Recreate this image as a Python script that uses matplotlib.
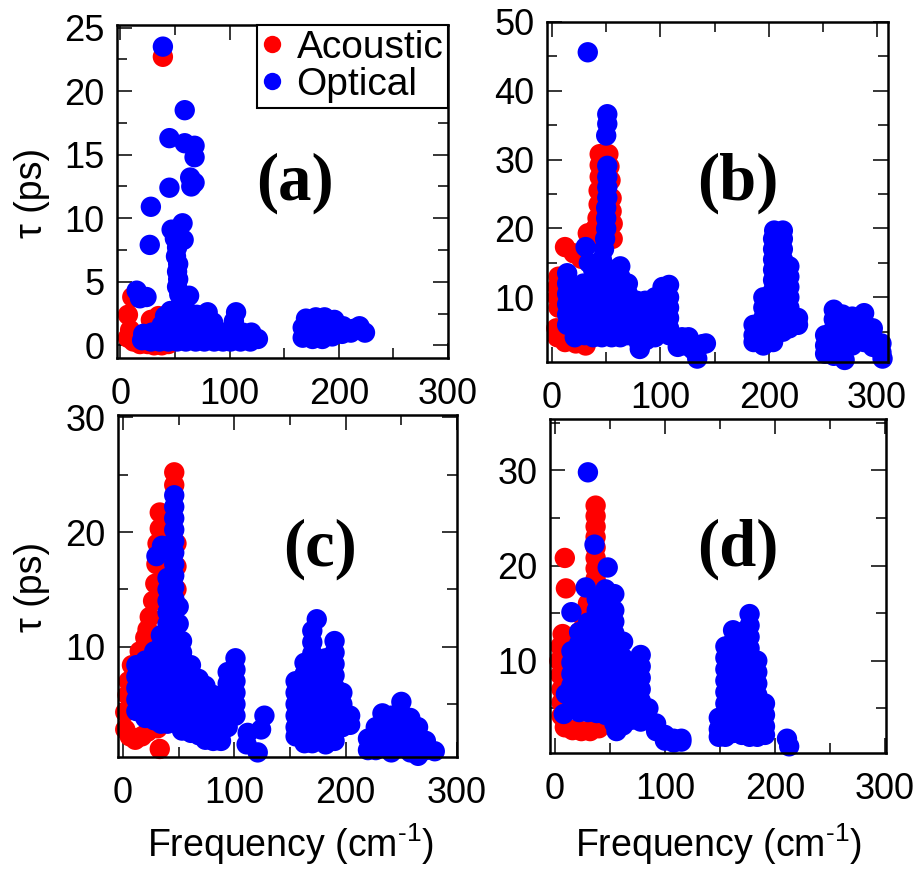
import matplotlib
matplotlib.use("Agg")
import matplotlib.pyplot as plt
from matplotlib.lines import Line2D
from matplotlib.ticker import MultipleLocator

plt.rcParams["font.family"] = ["Liberation Sans", "DejaVu Sans"]
plt.rcParams["mathtext.fontset"] = "custom"
plt.rcParams["mathtext.rm"] = "Liberation Sans"
plt.rcParams["mathtext.it"] = "Liberation Sans:italic"

RED = "#ff0000"
BLUE = "#0000ff"

# (frequency cm^-1, tau ps), panel by panel
a_acoustic = [
    (39, 22.7),
    (7, 2.4), (11, 3.8), (28, 2.0), (35, 2.3), (36, 1.5),
    (7, 0.6), (9, 1.2), (12, 0.3), (18, 0.1), (25, 0.1), (31, 0.0), (38, 0.0), (44, 0.1),
]
a_optical = [
    (39, 23.5), (59, 18.5), (45, 16.3), (59, 15.9), (68, 15.7), (68, 14.8),
    (64, 13.2), (68, 12.8), (65, 12.5), (45, 12.4), (28, 10.9), (27, 7.9),
    (57, 9.6), (47, 9.1), (52, 8.9), (58, 8.3),
    (50, 8.4), (52, 7.7), (51, 7.0), (53, 6.4), (52, 5.8), (53, 5.2), (52, 4.6), (54, 4.0),
    (63, 3.9), (15, 4.3), (18, 3.7), (24, 3.8),
    (20, 0.4), (21, 0.9), (28, 0.3), (29, 1.0), (36, 0.3), (37, 1.0), (38, 1.6),
    (41, 2.3), (44, 0.3), (44, 1.1), (45, 1.9), (46, 2.7), (52, 0.3), (52, 1.1),
    (53, 1.9), (54, 2.7), (56, 3.4), (60, 0.3), (61, 1.1), (61, 1.9), (62, 2.6),
    (69, 0.3), (69, 1.1), (70, 1.9), (70, 2.4), (77, 0.3), (77, 1.1), (78, 1.9),
    (80, 2.6), (86, 0.3), (86, 1.1), (85, 1.8), (94, 0.3), (94, 1.0), (101, 0.3),
    (102, 1.1), (104, 1.9), (106, 2.6), (110, 0.3), (112, 1.0), (119, 0.3),
    (120, 1.0), (126, 0.5),
    (167, 0.6), (167, 1.4), (170, 2.1), (176, 0.5), (177, 1.3), (179, 2.2),
    (185, 0.5), (186, 1.3), (187, 2.2), (194, 0.7), (195, 1.4), (196, 2.0),
    (203, 0.9), (204, 1.5), (211, 1.0), (214, 1.3), (219, 1.5), (224, 1.0),
]

b_acoustic = [
    (12, 17.3), (20, 16.4), (27, 15.6), (33, 19.3),
    (44, 30.8), (52, 30.8), (44, 29.2), (53, 29.0), (44, 27.5), (54, 27.0),
    (43, 25.5), (55, 24.4), (43, 23.5), (55, 22.5), (42, 21.5), (56, 20.7),
    (40, 20.0), (56, 18.5), (38, 18.5),
    (6, 13.0), (5, 11.5), (5, 10.0), (6, 8.5), (4, 5.5), (5, 4.2),
    (12, 3.5), (22, 3.3), (31, 3.0),
]
b_optical = [
    (33, 45.6),
    (51, 36.6), (51, 35.2), (50, 33.5), (51, 29.1), (51, 27.5), (51, 26.0),
    (51, 24.5), (50, 23.0), (50, 21.5), (50, 20.0), (49, 18.5), (48, 17.0),
    (31, 17.3), (34, 15.0),
    (14, 13.5), (14, 12.0), (14, 10.5), (14, 9.0), (14, 7.5), (14, 6.0),
    (20, 11.5), (21, 10.0), (21, 8.5), (21, 7.0), (21, 5.5), (21, 4.2),
    (29, 12.0), (30, 10.5), (30, 9.0), (30, 7.5), (30, 6.0), (30, 4.5),
    (38, 14.0), (38, 12.5), (38, 11.0), (38, 9.5), (38, 8.0), (38, 6.5), (38, 5.0), (38, 4.2),
    (46, 15.5), (46, 14.0), (46, 12.5), (46, 11.0), (46, 9.5), (46, 8.0), (46, 6.5), (46, 5.0), (46, 4.2),
    (55, 14.0), (55, 12.5), (55, 11.0), (55, 9.5), (55, 8.0), (55, 6.5), (55, 5.0), (55, 4.2),
    (63, 14.5), (63, 13.0), (63, 11.5), (63, 10.0), (63, 8.5), (63, 7.0), (63, 5.5), (63, 4.2),
    (70, 12.0), (70, 10.5), (70, 9.0), (70, 7.5), (70, 6.0), (70, 4.5),
    (78, 9.5), (78, 8.0), (78, 6.5), (78, 5.0), (80, 3.5), (81, 2.5),
    (86, 9.5), (86, 8.0), (86, 6.5), (86, 5.0), (87, 3.8),
    (95, 10.0), (95, 8.5), (95, 7.0), (95, 5.5), (95, 4.2),
    (102, 11.5), (102, 10.0), (102, 8.5), (102, 7.0), (102, 5.5),
    (108, 11.8), (108, 10.0), (108, 8.5), (108, 7.0), (108, 5.5), (108, 4.5),
    (116, 2.8), (120, 4.2), (126, 4.2), (123, 3.0), (130, 2.4), (134, 1.1),
    (139, 3.2), (142, 3.3),
    (205, 19.7), (213, 19.7),
    (204, 18.5), (204, 17.0), (204, 15.5), (204, 14.0), (204, 12.5), (204, 11.0),
    (204, 9.5), (204, 8.0), (204, 6.5), (204, 5.0), (204, 3.5),
    (213, 18.5), (213, 17.0), (213, 15.5), (213, 14.0), (213, 12.5), (213, 11.0),
    (213, 9.5), (213, 8.0), (213, 6.5), (213, 5.0),
    (219, 14.5), (219, 13.0), (219, 11.5), (219, 10.0), (219, 8.5), (219, 7.0), (219, 5.5),
    (227, 7.0), (227, 6.0),
    (195, 10.0), (195, 8.5), (195, 7.0), (195, 5.5), (195, 4.0), (195, 3.0),
    (186, 6.0), (186, 4.5), (186, 3.5),
    (252, 4.5), (252, 3.0), (252, 1.8),
    (260, 8.2), (260, 6.8), (260, 5.4), (260, 4.0), (260, 2.6), (260, 1.5),
    (268, 7.5), (268, 6.0), (268, 4.5), (268, 3.0), (268, 1.5), (270, 0.9),
    (277, 7.2), (277, 5.8), (277, 4.4), (277, 3.0),
    (288, 7.7), (288, 6.3), (288, 4.9), (288, 3.5),
    (296, 5.5), (296, 4.2), (296, 2.8),
    (304, 3.3), (304, 2.0), (305, 1.1),
]

c_acoustic = [
    (46, 25.2), (46, 24.1), (33, 21.7), (33, 20.3), (31, 19.0), (30, 17.2),
    (29, 15.5), (27, 14.0), (24, 12.6), (22, 11.5), (20, 10.8), (15, 9.6),
    (8, 8.4), (5, 7.0), (4, 5.8), (2, 4.3), (2, 2.8), (6, 2.2), (11, 1.9),
    (17, 2.2), (22, 2.6), (31, 2.9), (33, 1.1),
    (48, 19.0), (48, 17.0), (48, 15.0),
]
c_optical = [
    (46, 23.2), (46, 22.2), (46, 21.2), (46, 20.2), (46, 19.2), (46, 18.2),
    (46, 17.2), (46, 16.2), (46, 15.2), (46, 14.2), (46, 13.2), (46, 12.2),
    (46, 11.2), (46, 10.2), (46, 9.2), (46, 8.2), (46, 7.2), (46, 6.2),
    (46, 5.2), (46, 4.2), (46, 3.4),
    (30, 17.9), (35, 18.8),
    (40, 16.0), (40, 15.0), (40, 14.0), (40, 13.0), (40, 12.0), (40, 11.0),
    (40, 10.0), (40, 9.0), (40, 8.0), (40, 7.0), (40, 6.0), (40, 5.0), (40, 4.0), (40, 3.3),
    (34, 11.0), (34, 10.0), (34, 9.0), (34, 8.0), (34, 7.0), (34, 6.0), (34, 5.0), (34, 4.0), (34, 3.3),
    (28, 9.6), (28, 8.6), (28, 7.6), (28, 6.6), (28, 5.6), (28, 4.6), (28, 3.6),
    (20, 8.8), (20, 7.8), (20, 6.8), (20, 5.8), (20, 4.8), (20, 3.8),
    (12, 8.4), (12, 7.4), (12, 6.4), (12, 5.4), (12, 4.4),
    (50, 13.5), (50, 12.0),
    (53, 10.5), (53, 9.5), (53, 8.5), (53, 7.5), (53, 6.5), (53, 5.5), (53, 4.5), (53, 3.5), (53, 2.7),
    (61, 8.4), (61, 7.4), (61, 6.4), (61, 5.4), (61, 4.4), (61, 3.4), (61, 2.5),
    (68, 7.2), (68, 6.2), (68, 5.2), (68, 4.2), (68, 3.2), (68, 2.3),
    (74, 6.6), (74, 5.6), (74, 4.6), (74, 3.6), (74, 2.6), (74, 1.9),
    (81, 5.8), (81, 4.8), (81, 3.8), (81, 2.8), (81, 1.8),
    (88, 5.5), (88, 4.5), (88, 3.5), (88, 2.5), (88, 1.8),
    (94, 7.8), (94, 6.8), (94, 5.8), (94, 4.8), (94, 3.8), (94, 3.0),
    (101, 9.0), (101, 8.0), (101, 7.0), (101, 6.0), (101, 5.0), (101, 4.0),
    (112, 2.5), (111, 1.5), (121, 0.8), (124, 2.8), (127, 4.0),
    (155, 7.0), (155, 6.0), (155, 5.0), (155, 4.0), (155, 3.0), (155, 2.2),
    (163, 8.6), (163, 7.6), (163, 6.6), (163, 5.6), (163, 4.6), (163, 3.6), (163, 2.6), (163, 1.6),
    (170, 11.4), (170, 10.4), (170, 9.4), (170, 8.4), (170, 7.4), (170, 6.4),
    (170, 5.4), (170, 4.4), (170, 3.4), (170, 2.4), (170, 1.6),
    (174, 12.4),
    (182, 9.0), (182, 8.0), (182, 7.0), (182, 6.0), (182, 5.0), (182, 4.0),
    (182, 3.0), (182, 2.0), (182, 1.5),
    (190, 10.5), (190, 9.5), (190, 8.5), (190, 7.5), (190, 6.5), (190, 5.5),
    (190, 4.5), (190, 3.5), (190, 2.5), (190, 1.8),
    (197, 6.0), (197, 5.0), (197, 4.0), (197, 3.0),
    (204, 4.0), (204, 3.2),
    (220, 2.0), (220, 1.0),
    (227, 3.0), (227, 2.0), (227, 1.0),
    (233, 4.2), (233, 3.2), (233, 2.2), (233, 1.2),
    (241, 4.0), (241, 3.0), (241, 2.0), (241, 0.8),
    (250, 5.2), (250, 4.2), (250, 3.2), (250, 2.2), (250, 1.2),
    (258, 3.8), (258, 2.8), (258, 1.8), (258, 0.8),
    (265, 3.0), (265, 2.0), (265, 0.5),
    (272, 1.8), (272, 1.0),
    (280, 0.9),
]

d_acoustic = [
    (37, 26.3), (37, 25.2), (37, 24.1), (37, 23.0), (37, 21.9), (37, 20.8),
    (37, 19.7), (37, 18.6), (37, 17.5), (36, 16.4), (35, 15.3),
    (9, 20.8), (10, 17.6),
    (33, 17.0), (30, 16.0), (26, 14.5), (22, 13.0),
    (7, 12.8), (5, 11.5), (4, 10.0), (5, 8.5), (6, 7.0), (6, 5.6), (6, 4.2),
    (9, 3.0), (16, 2.7), (24, 2.6), (32, 2.6), (40, 2.9),
]
d_optical = [
    (30, 29.8), (36, 22.2), (48, 19.8), (28, 17.7), (15, 15.1),
    (10, 6.5), (8, 4.4),
    (15, 11.0), (15, 9.8), (15, 8.6), (15, 7.4), (15, 6.2), (15, 5.0),
    (22, 13.0), (22, 11.8), (22, 10.6), (22, 9.4), (22, 8.2), (22, 7.0), (22, 5.8), (22, 4.6),
    (30, 14.0), (30, 12.8), (30, 11.6), (30, 10.4), (30, 9.2), (30, 8.0), (30, 6.8), (30, 5.6), (30, 4.6),
    (38, 16.5), (38, 15.3), (38, 14.1), (38, 12.9), (38, 11.7), (38, 10.5),
    (38, 9.3), (38, 8.1), (38, 6.9), (38, 5.7), (38, 4.5),
    (46, 17.5), (46, 16.3), (46, 15.1), (46, 13.9), (46, 12.7), (46, 11.5),
    (46, 10.3), (46, 9.1), (46, 7.9), (46, 6.7), (46, 5.5), (46, 4.3),
    (54, 17.0), (54, 15.3), (54, 14.1), (54, 12.9), (54, 11.7), (54, 10.5),
    (54, 9.3), (54, 8.1), (54, 6.9), (54, 5.7), (54, 4.5), (54, 3.4), (56, 2.6),
    (62, 12.0), (62, 10.3), (62, 9.1), (62, 7.9), (62, 6.7), (62, 5.5), (62, 4.3), (62, 3.2),
    (70, 9.7), (70, 8.5), (70, 7.3), (70, 6.1), (70, 4.9), (70, 3.8),
    (78, 10.6), (78, 9.4), (78, 8.2), (78, 7.0), (78, 5.8), (78, 4.6), (78, 3.6),
    (85, 5.0), (85, 3.8), (92, 3.4), (92, 2.6), (100, 2.2), (100, 1.6),
    (108, 1.8), (108, 1.4), (115, 1.8), (115, 1.5),
    (149, 4.0), (149, 2.8), (149, 2.0),
    (155, 11.5), (155, 10.3), (155, 9.1), (155, 7.9), (155, 6.7), (155, 5.5),
    (155, 4.3), (155, 3.1), (155, 2.0),
    (162, 13.2), (162, 12.0), (162, 10.8), (162, 9.6), (162, 8.4), (162, 7.2),
    (162, 6.0), (162, 4.8), (162, 3.6), (162, 2.4),
    (170, 13.0), (170, 11.8), (170, 10.6), (170, 9.4), (170, 8.2), (170, 7.0),
    (170, 5.8), (170, 4.6), (170, 3.4), (170, 2.2),
    (177, 14.9), (177, 13.7), (177, 12.5), (177, 11.3), (177, 10.1), (177, 8.9),
    (177, 7.7), (177, 6.5), (177, 5.3), (177, 4.1), (177, 2.9), (177, 2.0),
    (184, 10.0), (184, 8.8), (184, 7.6), (184, 6.4), (184, 5.2), (184, 4.0),
    (184, 2.8), (184, 2.0),
    (191, 5.5), (191, 4.3), (191, 3.1), (191, 2.2),
    (211, 1.8), (213, 1.0),
]

# axes rectangles in figure fraction, limits and tick steps
panels = [
    dict(rect=[0.1269, 0.588, 0.359, 0.3832], acoustic=a_acoustic, optical=a_optical,
         xlim=(-3, 300), ylim=(-1.0, 25.2), ymajor=5, yminor=2.5,
         tag="(a)", tag_pos=(0.538, 0.5255)),
    dict(rect=[0.5933, 0.5834, 0.3698, 0.3913], acoustic=b_acoustic, optical=b_optical,
         xlim=(-4.6, 310), ylim=(0.6, 50.0), ymajor=10, yminor=5,
         tag="(b)", tag_pos=(0.56, 0.526)),
    dict(rect=[0.128, 0.1289, 0.3677, 0.3936], acoustic=c_acoustic, optical=c_optical,
         xlim=(-4.5, 300), ylim=(0.4, 30.2), ymajor=10, yminor=5,
         tag="(c)", tag_pos=(0.596, 0.608)),
    dict(rect=[0.5965, 0.1335, 0.3644, 0.3843], acoustic=d_acoustic, optical=d_optical,
         xlim=(-4.5, 301), ylim=(0.3, 35.4), ymajor=10, yminor=5,
         tag="(d)", tag_pos=(0.56, 0.611)),
]

fig = plt.figure(figsize=(9.22, 8.69), dpi=100)

axes = []
for p in panels:
    ax = fig.add_axes(p["rect"])
    for pts, color in ((p["acoustic"], RED), (p["optical"], BLUE)):
        xs, ys = zip(*pts)
        ax.scatter(xs, ys, s=215, c=color, edgecolors="none", clip_on=False, zorder=2)
    ax.set_xlim(*p["xlim"])
    ax.set_ylim(*p["ylim"])
    ax.xaxis.set_major_locator(MultipleLocator(100))
    ax.xaxis.set_minor_locator(MultipleLocator(50))
    ax.yaxis.set_major_locator(MultipleLocator(p["ymajor"]))
    ax.yaxis.set_minor_locator(MultipleLocator(p["yminor"]))
    ax.tick_params(which="both", direction="in", top=True, right=True, width=1.1, labelsize=26)
    ax.tick_params(which="major", length=11)
    ax.tick_params(which="minor", length=7)
    ax.tick_params(axis="x", pad=14)
    ax.tick_params(axis="y", pad=9)
    for sp in ax.spines.values():
        sp.set_linewidth(1.8)
    ax.text(*p["tag_pos"], p["tag"], transform=ax.transAxes, ha="center", va="center",
            fontsize=48, fontweight="bold", family="Liberation Serif")
    axes.append(ax)

handles = [
    Line2D([], [], ls="none", marker="o", ms=12.5, mfc=RED, mec="none", label="Acoustic"),
    Line2D([], [], ls="none", marker="o", ms=12.5, mfc=BLUE, mec="none", label="Optical"),
]
leg = axes[0].legend(handles=handles, loc="upper right", bbox_to_anchor=(1, 1),
                     borderaxespad=0, fontsize=28, frameon=True, fancybox=False,
                     edgecolor="black", framealpha=1, borderpad=0.12, labelspacing=0.03,
                     handlelength=0.55, handletextpad=0.35)
leg.get_frame().set_linewidth(1.5)

for y in (0.778, 0.3245):
    fig.text(0.0347, y, "τ (ps)", rotation=90, ha="center", va="center", fontsize=27)
for x in (0.3156, 0.7798):
    fig.text(x, 0.0138, r"Frequency (cm$^{\text{-1}}$)", ha="center", va="baseline", fontsize=27)

fig.savefig("out.png", dpi=100)
